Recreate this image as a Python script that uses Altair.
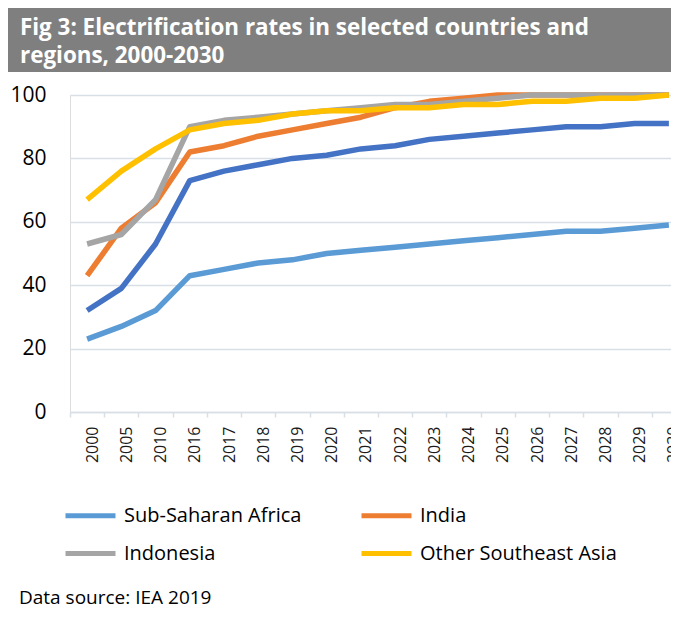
import altair as alt
import pandas as pd

years = ["2000", "2005", "2010", "2016", "2017", "2018", "2019", "2020", "2021",
         "2022", "2023", "2024", "2025", "2026", "2027", "2028", "2029", "2030"]
ssa = [23, 27, 32, 43, 45, 47, 48, 50, 51, 52, 53, 54, 55, 56, 57, 57, 58, 59]
india = [43, 58, 66, 82, 84, 87, 89, 91, 93, 96, 98, 99, 100, 100, 100, 100, 100, 100]
indonesia = [53, 56, 67, 90, 92, 93, 94, 95, 96, 97, 97, 98, 99, 100, 100, 100, 100, 100]
other_sea = [67, 76, 83, 89, 91, 92, 94, 95, 95, 96, 96, 97, 97, 98, 98, 99, 99, 100]
developing = [32, 39, 53, 73, 76, 78, 80, 81, 83, 84, 86, 87, 88, 89, 90, 90, 91, 91]

series_names = ["Sub-Saharan Africa", "India", "Indonesia", "Other Southeast Asia", "Developing countries"]
series_values = [ssa, india, indonesia, other_sea, developing]
series_colors = ["#5B9BD5", "#ED7D31", "#A5A5A5", "#FFC000", "#4472C4"]
legend_names = series_names[:4]

title_text = "Fig 3: Electrification rates in selected countries and\nregions, 2000-2030"
source_text = "Data source: IEA 2019"

rows = []
for name, vals in zip(series_names, series_values):
    for y, v in zip(years, vals):
        rows.append({"year": y, "value": v, "series": name})
df = pd.DataFrame(rows)

FONT = "Open Sans"
GRID = "#D9DFE7"

lines = alt.Chart(df).mark_line(strokeWidth=5.5, strokeCap="butt", strokeJoin="round").encode(
    x=alt.X("year:O", sort=years,
            scale=alt.Scale(type="band", paddingInner=0, paddingOuter=0, range=[0, 616]),
            axis=alt.Axis(title=None, labelAngle=270, labelFontSize=16, labelFont=FONT,
                          labelColor="#1a1a1a", labelPadding=9, labelOffset=5,
                          tickBand="extent", ticks=True, tickSize=5, tickColor=GRID,
                          tickWidth=1.5, domain=True, domainColor=GRID, domainWidth=1.5,
                          grid=False)),
    y=alt.Y("value:Q", scale=alt.Scale(domain=[0, 100]),
            axis=alt.Axis(title=None, values=[0, 20, 40, 60, 80, 100], labelFontSize=21,
                          labelFont=FONT, labelColor="#000000", labelPadding=24,
                          ticks=False, domain=False, grid=True, gridColor=GRID,
                          gridWidth=1.5)),
    color=alt.Color("series:N",
                    scale=alt.Scale(domain=series_names, range=series_colors),
                    legend=alt.Legend(title=None, values=legend_names, orient="none",
                                      direction="horizontal",
                                      legendX=-7, legendY=393, columns=2,
                                      symbolType="stroke", symbolSize=2500,
                                      symbolStrokeWidth=5, labelFontSize=20,
                                      labelFont=FONT, labelColor="#000000",
                                      labelOffset=6, columnPadding=49, rowPadding=-21,
                                      padding=0, labelLimit=400)),
)

one = pd.DataFrame({"t": [title_text], "s": [source_text]})

banner = alt.Chart(one).mark_rect(color="#7F7F7F").encode(
    x=alt.value(-62), x2=alt.value(700), y=alt.value(-88), y2=alt.value(-23)
)
title = alt.Chart(one).mark_text(
    font=FONT, fontSize=22.4, fontWeight="bold", color="white", align="left",
    baseline="alphabetic", lineBreak="\n", lineHeight=28
).encode(x=alt.value(-50), y=alt.value(-60), text="t:N")

source = alt.Chart(one).mark_text(
    font=FONT, fontSize=19, color="#000000", align="left", baseline="alphabetic"
).encode(x=alt.value(-51), y=alt.value(509), text="s:N")

chart = alt.layer(banner, title, lines, source).properties(
    width=601, height=317,
    autosize=alt.AutoSizeParams(type="none"),
    padding={"left": 62, "top": 87, "right": 0, "bottom": 200},
).configure_view(stroke=None, clip=False).configure(background="white")

chart.save("out.html", embed_options={"renderer": "svg", "actions": False})
